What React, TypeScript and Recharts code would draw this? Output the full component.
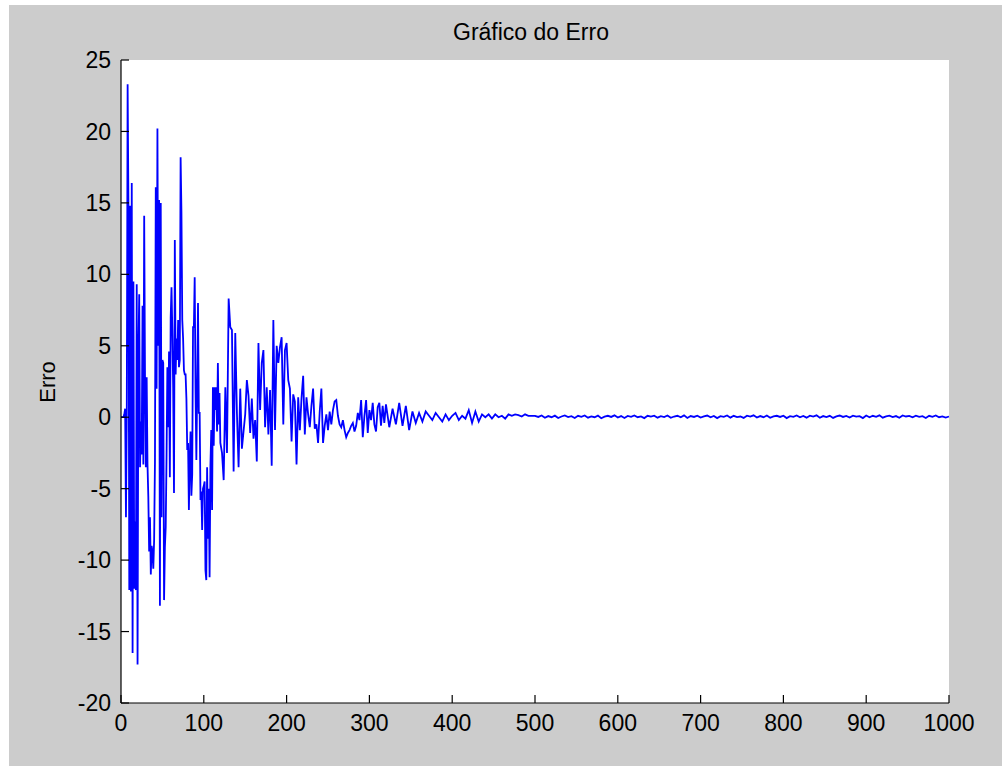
import React from 'react';
import { LineChart, Line, XAxis, YAxis, CartesianGrid } from 'recharts';

// Erro, amostras 0..119 (passo 1)
const erroInicio = [
  0, 0, 0, 0, 0.2, 0.6, -7, 0.6, 23.3, 14.6,
  -12.1, 14.8, -12.2, 16.4, -16.5, 9.5, -12, -7.3, -12.1, 9.3,
  -17.3, 4.4, 8.6, -3.5, -0.3, -2.6, 7.8, -3.3, 14.1, 2.8,
  -3.5, 2.8, -3.3, -5.6, -9.4, -7, -11, -9, -9.4, -10.6,
  -8.6, -3.2, 16.1, 2, 20.2, 5, 15.2, -13.2, 15, -7,
  4, 3.8, -12.8, -9.1, -7.7, -2.8, 3.5, -0.7, 4.6, -4.2,
  7, 9.1, 6, 2.1, -5.3, 12.4, 3, 5.5, 4, 6.8,
  3.5, 4, 18.2, 14.3, 6.8, 5.5, 3.3, 3, 3, 1.3,
  -2.3, -1.8, -6.5, -3, -1, -5.5, -4, 6.3, 6.3, 9.8,
  2, -3, 2, 8, 0.3, 0.3, -5.8, -5.2, -7.9, -5,
  -4.8, -4.5, -10.7, -11.4, -3.5, -8.5, -5, -11.2, -3.4, -0.9,
  -6.5, 2.1, -2, 2.1, 0.5, 2.1, -1, 3.8, -0.5, 1.7,
];

// Erro, amostras 120..318 (passo 2)
const erroMeio = [
  -1.8, -2.5, -4.4, 2.1, -2.5, 8.3, 6.3, 6.1, -3.8, 5.9,
  0.3, -3.5, 2, -2.2, -1, 0.2, 2.6, 1.5, -1.1, 1.3,
  -1.5, -0.2, -3.1, 5.2, 0.5, 3.8, 4.7, -0.7, 2.1, -1.2,
  1.9, -3.4, 6.8, -0.9, 5, 3.8, 4.9, 5.6, -0.5, 4.7,
  5.2, 2.6, 2, -1.7, 1.6, 1.1, -3.3, 1.4, -0.9, 1.3,
  2.9, -1.2, 1.4, 0.2, -0.7, 0.8, 2.0, -0.8, -0.5, -1.8,
  0.4, 2.0, -1.8, -0.6, 0.2, -0.9, 0.4, -0.5, 0.5, 1.1,
  1.2, 0.1, -0.5, -0.7, -0.2, -0.9, -1.4, -1.1, -0.9, -0.6,
  -0.4, -1.0, -0.6, 0.3, -0.2, 1.2, -1.4, 0.1, 1.2, -1.1,
  0.5, -0.2, 1.0, -0.5, -1.0, 0.7, 1.0, -0.6, 0.8, -0.4,
];

// Erro, amostras 320..1000 (passo 4)
const erroFim = [
  0.9, -0.7, 0.6, -0.5, 1.0, -0.6, 0.8, -0.9, 0.4, -0.4,
  0.3, -0.3, 0.4, 0.1, -0.2, 0.3, 0.0, -0.3, 0.2, -0.2,
  0.1, 0.3, -0.2, 0.1, -0.1, 0.5, -0.4, 0.4, -0.3, 0.2,
  0.0, 0.2, -0.1, 0.2, 0.0, 0.1, -0.1, 0.2, 0.1, 0.2,
  0.15, 0.05, 0.2, 0.1, 0.1,
  0.10, 0.02, 0.12, -0.04, 0.08, 0.00, 0.11, -0.06, 0.05, 0.12,
  0.01, 0.07, -0.05, 0.10, 0.03, 0.12, -0.03, 0.06, 0.00, 0.11,
  -0.07, 0.04, 0.10, 0.02, 0.13, -0.02, 0.08, -0.05, 0.09, 0.03,
  0.12, 0.00, 0.06, -0.06, 0.10, 0.04, 0.11, -0.03, 0.07, 0.01,
  0.12, -0.04, 0.05, 0.10, 0.00, 0.13, -0.05, 0.08, 0.02, 0.11,
  -0.02, 0.06, 0.12, 0.00, 0.09, -0.06, 0.07, 0.03, 0.12, -0.03,
  0.10, 0.01, 0.05, -0.05, 0.11, 0.04, 0.13, -0.02, 0.08, 0.00,
  0.12, -0.04, 0.06, 0.10, 0.02, 0.11, -0.06, 0.07, 0.03, 0.12,
  0.00, 0.09, -0.03, 0.11, 0.05, 0.13, -0.04, 0.08, 0.01, 0.10,
  -0.05, 0.06, 0.12, 0.02, 0.09, -0.02, 0.11, 0.04, 0.07, -0.06,
  0.12, 0.00, 0.10, 0.03, 0.13, -0.03, 0.06, 0.11, 0.01, 0.08,
  -0.04, 0.12, 0.05, 0.09, -0.01, 0.11, 0.02, 0.07, -0.05, 0.10,
  0.03, 0.12, 0.00, 0.06, -0.02, 0.05,
];

const xTicks = [0, 100, 200, 300, 400, 500, 600, 700, 800, 900, 1000];
const yTicks = [-20, -15, -10, -5, 0, 5, 10, 15, 20, 25];

const data = [
  ...erroInicio.map((e, i) => ({ n: i, e })),
  ...erroMeio.map((e, i) => ({ n: 120 + 2 * i, e })),
  ...erroFim.map((e, i) => ({ n: 320 + 4 * i, e })),
];

const FONT = "'Liberation Sans', Arial, sans-serif";
const W = 1002;
const H = 766;
const MARGIN = { top: 60, right: 53, bottom: 33, left: 61 };
const X_AXIS_H = 30;
const Y_AXIS_W = 60;
const PLOT_LEFT = MARGIN.left + Y_AXIS_W;
const PLOT_RIGHT = W - MARGIN.right;
const PLOT_TOP = MARGIN.top;
const PLOT_BOTTOM = H - MARGIN.bottom - X_AXIS_H;
const TICK_LEN = 8;

const BottomTick = (p: any) => (
  <g>
    <line x1={p.x} x2={p.x} y1={PLOT_BOTTOM} y2={PLOT_BOTTOM - TICK_LEN} stroke="#000" strokeWidth={1.2} />
    <text x={p.x} y={PLOT_BOTTOM + 12} dy="0.71em" textAnchor="middle" fill="#000" fontSize={23} fontFamily={FONT}>
      {p.payload.value}
    </text>
  </g>
);

const LeftTick = (p: any) => (
  <g>
    <line x1={PLOT_LEFT} x2={PLOT_LEFT + TICK_LEN} y1={p.y} y2={p.y} stroke="#000" strokeWidth={1.2} />
    <text x={PLOT_LEFT - 10} y={p.y} dy="0.355em" textAnchor="end" fill="#000" fontSize={23} fontFamily={FONT}>
      {p.payload.value}
    </text>
  </g>
);

const TopTick = (p: any) => (
  <line x1={p.x} x2={p.x} y1={PLOT_TOP} y2={PLOT_TOP + TICK_LEN} stroke="#000" strokeWidth={1.2} />
);

const RightTick = (p: any) => (
  <line x1={PLOT_RIGHT} x2={PLOT_RIGHT - TICK_LEN} y1={p.y} y2={p.y} stroke="#000" strokeWidth={1.2} />
);

export default function App() {
  return (
    <div style={{ position: 'absolute', left: 0, top: 0, width: W, height: H, background: '#fff', overflow: 'hidden' }}>
      <div style={{ position: 'absolute', left: 9, top: 5, width: W - 9, height: H - 5, background: '#cccccc' }} />
      <div style={{ position: 'absolute', left: 0, top: 0 }}>
        <LineChart width={W} height={H} data={data} margin={MARGIN}>
          <CartesianGrid fill="#ffffff" horizontal={false} vertical={false} />
          <XAxis
            xAxisId="b"
            dataKey="n"
            type="number"
            domain={[0, 1000]}
            ticks={xTicks}
            interval={0}
            height={X_AXIS_H}
            tick={BottomTick}
            tickLine={false}
            axisLine={{ stroke: '#000', strokeWidth: 1.2 }}
          />
          <XAxis
            xAxisId="t"
            dataKey="n"
            type="number"
            orientation="top"
            domain={[0, 1000]}
            ticks={xTicks}
            interval={0}
            height={0}
            tick={TopTick}
            tickLine={false}
            axisLine={{ stroke: '#000', strokeWidth: 1.2 }}
          />
          <YAxis
            yAxisId="l"
            type="number"
            domain={[-20, 25]}
            ticks={yTicks}
            interval={0}
            width={Y_AXIS_W}
            tick={LeftTick}
            tickLine={false}
            axisLine={{ stroke: '#000', strokeWidth: 1.2 }}
          />
          <YAxis
            yAxisId="r"
            type="number"
            orientation="right"
            domain={[-20, 25]}
            ticks={yTicks}
            interval={0}
            width={0}
            tick={RightTick}
            tickLine={false}
            axisLine={{ stroke: '#000', strokeWidth: 1.2 }}
          />
          <Line
            xAxisId="t"
            yAxisId="r"
            dataKey="e"
            stroke="none"
            dot={false}
            isAnimationActive={false}
          />
          <Line
            xAxisId="b"
            yAxisId="l"
            dataKey="e"
            type="linear"
            stroke="#0000ff"
            strokeWidth={1.8}
            dot={false}
            isAnimationActive={false}
          />
        </LineChart>
      </div>
      <div style={{ position: 'absolute', left: 331, width: 400, top: 19, textAlign: 'center', fontFamily: FONT, fontSize: 23, color: '#000', lineHeight: '26px' }}>
        Gráfico do Erro
      </div>
      <div style={{ position: 'absolute', left: 48, top: 382, width: 0, height: 0 }}>
        <div style={{ position: 'absolute', left: -50, top: -13, width: 100, textAlign: 'center', transform: 'rotate(-90deg)', fontFamily: FONT, fontSize: 22, color: '#000', lineHeight: '26px' }}>
          Erro
        </div>
      </div>
    </div>
  );
}
